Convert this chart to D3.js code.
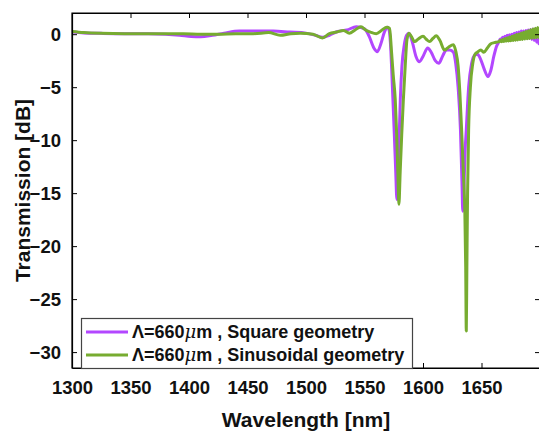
<!DOCTYPE html>
<html><head><meta charset="utf-8">
<script src="https://cdn.jsdelivr.net/npm/d3@7"></script>
<style>html,body{margin:0;padding:0;background:#fff;}svg{display:block;}</style>
</head><body>
<script>
// ---- data ----
const xTicks = [1300, 1350, 1400, 1450, 1500, 1550, 1600, 1650];
const yTicks = [0, -5, -10, -15, -20, -25, -30];
const seriesNames = ["\u039B=660\u03BCm , Square geometry", "\u039B=660\u03BCm , Sinusoidal geometry"];

const wlSquare = [1300,1310,1325,1345,1365,1380,1392,1402,1410,1420,1430,1443,1458,1472,1486,1500,1508,1514,1520,1527,1535,1543,1550,1554,1558,1561,1564,1567,1569.8,1571.2,1572.5,1573.5,1574.3,1575.5,1576.7,1577.7,1578.7,1579.7,1580.6,1582,1584,1586,1588,1591,1594,1597,1600,1604,1607,1610.5,1613.5,1617,1620,1623,1626,1628,1630,1632,1633.3,1634,1635,1636,1637,1639,1641.5,1644,1646.5,1649,1652,1655.5,1658,1660.5,1663,1665,1666,1667,1668,1669,1670,1671,1672,1673,1674,1675,1676,1677,1678,1679,1680,1681,1682,1683,1684,1685,1686,1687,1688,1689,1690,1691,1692,1693,1694,1695,1696,1697,1698,1699,1700];
const trSquare = [0.2,0.12,0.08,0.05,0.05,0.0,-0.1,-0.22,-0.25,-0.1,0.1,0.3,0.3,0.3,0.2,0.1,-0.1,-0.3,-0.1,0.25,0.4,0.7,0.5,-0.2,-1.3,-1.65,-0.9,0.2,0.65,0.3,-1.5,-4,-6.2,-9.5,-13,-15.6,-13,-9.5,-6.2,-3,-1,-0.1,0.1,-0.8,-2.1,-2.6,-2.1,-1.3,-1.7,-2.5,-2.75,-2.0,-1.5,-1.5,-1.7,-2.8,-5,-9,-14,-16.7,-14.5,-11,-9,-5,-2.8,-2.0,-1.9,-2.3,-3.2,-4.0,-3.4,-2.1,-1.1,-0.7,-0.45,-0.6,-0.3,-0.55,-0.2,-0.5,-0.1,-0.45,-0.05,-0.4,0.0,-0.4,0.1,-0.35,0.15,-0.35,0.2,-0.3,0.3,-0.3,0.3,-0.3,0.35,-0.35,0.4,-0.4,0.45,-0.5,0.5,-0.6,0.5,-0.75,0.55,-0.9,0.5];

const wlSine = [1300,1310,1325,1345,1365,1380,1395,1410,1425,1440,1455,1468,1478,1487,1495,1506,1514,1520,1526,1532,1537,1542,1547,1551,1555,1560,1565,1569,1571.5,1573,1574.5,1576.3,1577.5,1578.5,1579.4,1580.5,1581.8,1583.2,1584.8,1586.3,1588,1590,1592.8,1596,1600,1603,1605.6,1608.5,1611.3,1614.5,1618.4,1622,1626,1628,1630,1631.5,1633,1634.5,1635.8,1636.5,1637,1637.5,1638.1,1639,1640.5,1642.5,1644.5,1646.5,1649.5,1652,1655,1658,1661,1663,1665,1666,1667,1668,1669,1670,1671,1672,1673,1674,1675,1676,1677,1678,1679,1680,1681,1682,1683,1684,1685,1686,1687,1688,1689,1690,1691,1692,1693,1694,1695,1696,1697,1698,1699,1700];
const trSine = [0.25,0.15,0.08,0.05,0.05,0.05,0.05,0.0,0.0,0.05,0.05,0.15,-0.1,0.05,0.1,0.0,-0.35,0.05,0.2,0.35,0.1,0.4,0.7,0.4,0.2,0.05,0.4,0.65,0.55,-1.5,-3.8,-6.2,-9.5,-13,-16.05,-13,-9.5,-6.2,-3,-0.5,0.1,-0.2,-0.7,-0.45,-0.2,-0.5,-0.7,-0.4,-0.15,-0.6,-1.5,-1.2,-1.0,-1.6,-3,-5.5,-9,-13,-17,-22,-28,-22,-15,-9,-5,-2.8,-1.9,-1.7,-1.5,-1.7,-1.3,-0.9,-0.8,-0.75,-0.7,-0.56,-0.72,-0.49,-0.69,-0.41,-0.67,-0.34,-0.64,-0.27,-0.62,-0.19,-0.59,-0.12,-0.57,-0.04,-0.54,0.03,-0.51,0.11,-0.49,0.18,-0.46,0.26,-0.44,0.33,-0.41,0.41,-0.39,0.48,-0.36,0.55,-0.33,0.63,-0.31,0.7];

const colors = ["#b347ff", "#77ac30"];

// ---- layout ----
const W = 539, H = 431;
const L = 72, R = 540, T = 13, B = 368;
const svg = d3.select("body").append("svg").attr("width", W).attr("height", H)
  .style("font-family", "Arial, 'Liberation Sans', Helvetica, sans-serif");

const x = d3.scaleLinear().domain([1300, 1700]).range([L, R]);
const y = d3.scaleLinear().domain([-31.5, 2]).range([B, T]);

// curves
svg.append("clipPath").attr("id", "clip").append("rect")
  .attr("x", L).attr("y", T).attr("width", R - L).attr("height", B - T);

const line = d3.line().x(d => x(d[0])).y(d => y(d[1])).curve(d3.curveMonotoneX);
const sq = wlSquare.map((w, i) => [w, trSquare[i]]);
const si = wlSine.map((w, i) => [w, trSine[i]]);
const g = svg.append("g").attr("clip-path", "url(#clip)");
[sq, si].forEach((d, i) => {
  g.append("path").datum(d).attr("d", line).attr("fill", "none")
    .attr("stroke", colors[i]).attr("stroke-width", 3).attr("stroke-linejoin", "round");
});

// axes
const tl = 5;
const fmt = d3.format("d");
const axB = svg.append("g").attr("transform", `translate(0,${B})`)
  .call(d3.axisBottom(x).tickValues(xTicks).tickFormat(fmt).tickSizeInner(-tl).tickSizeOuter(0).tickPadding(13));
const axT = svg.append("g").attr("transform", `translate(0,${T})`)
  .call(d3.axisTop(x).tickValues(xTicks).tickSizeInner(-tl).tickSizeOuter(0).tickFormat(""));
const axL = svg.append("g").attr("transform", `translate(${L},0)`)
  .call(d3.axisLeft(y).tickValues(yTicks).tickFormat(fmt).tickSizeInner(-tl).tickSizeOuter(0).tickPadding(11));
const axR = svg.append("g").attr("transform", `translate(${R},0)`)
  .call(d3.axisRight(y).tickValues(yTicks).tickSizeInner(-tl).tickSizeOuter(0).tickFormat(""));
[axB, axT, axL, axR].forEach(a => {
  a.selectAll("path.domain").attr("stroke", "#000").attr("stroke-width", 1.2);
  a.selectAll(".tick line").attr("stroke", "#000").attr("stroke-width", 1);
  a.selectAll("text").attr("fill", "#111").style("font-size", "18.5px").style("font-weight", "bold")
    .style("font-family", "Arial, 'Liberation Sans', sans-serif");
});
svg.append("path").attr("d", `M${L},${B}V${T}H${R}V${B}Z`).attr("fill", "none").attr("stroke", "#000").attr("stroke-width", 1.2);

// axis titles
svg.append("text").attr("x", 306).attr("y", 427).attr("text-anchor", "middle")
  .style("font-size", "21px").style("font-weight", "bold").attr("fill", "#111")
  .text("Wavelength [nm]");
svg.append("text").attr("transform", `translate(30,${(T + B) / 2}) rotate(-90)`).attr("text-anchor", "middle")
  .style("font-size", "21px").style("font-weight", "bold").attr("fill", "#111")
  .text("Transmission [dB]");

// legend
const lg = svg.append("g");
lg.append("rect").attr("x", 81.5).attr("y", 318.5).attr("width", 331).attr("height", 50)
  .attr("fill", "#fff").attr("stroke", "#444").attr("stroke-width", 1.2);
seriesNames.forEach((name, i) => {
  const yy = 332 + i * 23;
  lg.append("line").attr("x1", 86).attr("x2", 128).attr("y1", yy).attr("y2", yy)
    .attr("stroke", colors[i]).attr("stroke-width", 3);
  const t = lg.append("text").attr("x", 132).attr("y", yy + 6)
    .style("font-size", "18px").style("font-weight", "bold").attr("fill", "#111");
  const parts = name.split("\u03BC");
  t.append("tspan").text(parts[0]);
  t.append("tspan").style("font-style", "italic").style("font-weight", "normal")
    .style("font-family", "'DejaVu Serif', 'Liberation Serif', serif").text("\u03BC");
  t.append("tspan").text(parts[1]);
});
</script>
</body></html>
